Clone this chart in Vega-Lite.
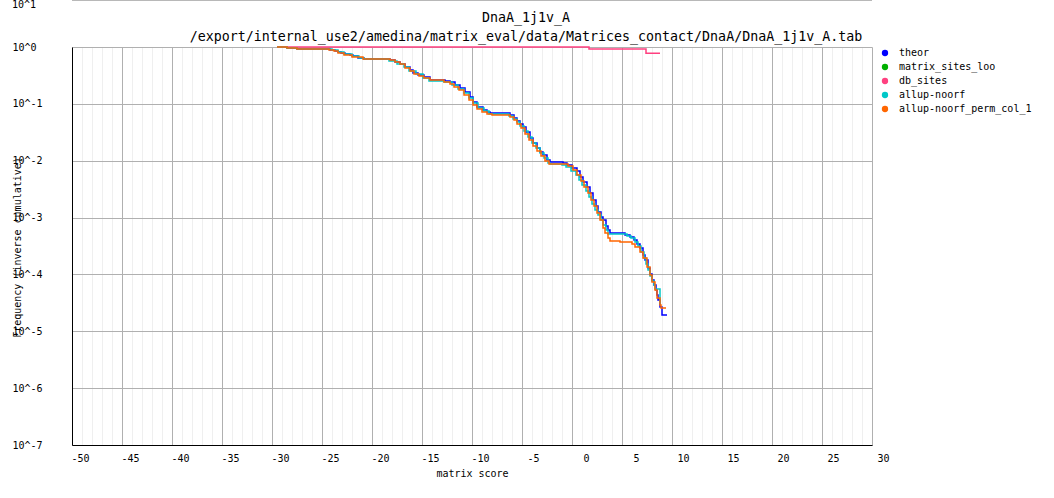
{
  "$schema": "https://vega.github.io/schema/vega-lite/v6.json",
  "autosize": {"type": "none"},
  "padding": {"left": 72, "top": 47, "right": 182, "bottom": 53},
  "width": 800,
  "height": 398,
  "background": "white",
  "title": {
    "text": ["DnaA_1j1v_A", "/export/internal_use2/amedina/matrix_eval/data/Matrices_contact/DnaA/DnaA_1j1v_A.tab"],
    "font": "DejaVu Sans Mono",
    "fontSize": 13.3,
    "fontWeight": "normal",
    "color": "black",
    "anchor": "middle",
    "frame": "group",
    "dx": 54,
    "lineHeight": 19,
    "offset": -43
  },
  "config": {
    "view": {"stroke": null},
    "axis": {
      "labelFont": "DejaVu Sans Mono",
      "labelFontSize": 10,
      "labelColor": "black",
      "titleFont": "DejaVu Sans Mono",
      "titleFontSize": 10,
      "titleFontWeight": "normal",
      "titleColor": "black",
      "domainColor": "black",
      "domainWidth": 1,
      "ticks": false,
      "tickSize": 0,
      "gridOpacity": 1
    },
    "legend": {
      "labelFont": "DejaVu Sans Mono",
      "labelFontSize": 10,
      "labelColor": "black"
    }
  },
  "layer": [
    {
      "data": {"values": [
        {"s": "theor", "x": -29.5, "y": 1},
        {"s": "theor", "x": -28.5, "y": 0.96},
        {"s": "theor", "x": -27.5, "y": 0.922},
        {"s": "theor", "x": -24.2, "y": 0.8856},
        {"s": "theor", "x": -23.7, "y": 0.8504},
        {"s": "theor", "x": -23.4, "y": 0.8166},
        {"s": "theor", "x": -23.1, "y": 0.7842},
        {"s": "theor", "x": -22.7, "y": 0.753},
        {"s": "theor", "x": -22.2, "y": 0.7232},
        {"s": "theor", "x": -21.9, "y": 0.6944},
        {"s": "theor", "x": -21.4, "y": 0.6405},
        {"s": "theor", "x": -20.8, "y": 0.6151},
        {"s": "theor", "x": -18.2, "y": 0.5906},
        {"s": "theor", "x": -17.7, "y": 0.5447},
        {"s": "theor", "x": -17.2, "y": 0.5024},
        {"s": "theor", "x": -16.7, "y": 0.4447},
        {"s": "theor", "x": -16.2, "y": 0.3939},
        {"s": "theor", "x": -15.9, "y": 0.3488},
        {"s": "theor", "x": -15.4, "y": 0.3218},
        {"s": "theor", "x": -14.8, "y": 0.2968},
        {"s": "theor", "x": -14.2, "y": 0.2628},
        {"s": "theor", "x": -12.7, "y": 0.2523},
        {"s": "theor", "x": -12.2, "y": 0.2423},
        {"s": "theor", "x": -11.7, "y": 0.2146},
        {"s": "theor", "x": -11.2, "y": 0.19},
        {"s": "theor", "x": -10.7, "y": 0.1616},
        {"s": "theor", "x": -10.2, "y": 0.132},
        {"s": "theor", "x": -9.9, "y": 0.1078},
        {"s": "theor", "x": -9.5, "y": 0.0881},
        {"s": "theor", "x": -8.9, "y": 0.078},
        {"s": "theor", "x": -8.5, "y": 0.0719},
        {"s": "theor", "x": -8.2, "y": 0.0691},
        {"s": "theor", "x": -6.2, "y": 0.0637},
        {"s": "theor", "x": -5.8, "y": 0.0564},
        {"s": "theor", "x": -5.5, "y": 0.04995},
        {"s": "theor", "x": -5.2, "y": 0.04423},
        {"s": "theor", "x": -4.9, "y": 0.03917},
        {"s": "theor", "x": -4.6, "y": 0.032},
        {"s": "theor", "x": -4.2, "y": 0.02509},
        {"s": "theor", "x": -3.9, "y": 0.02049},
        {"s": "theor", "x": -3.5, "y": 0.01674},
        {"s": "theor", "x": -3.2, "y": 0.01424},
        {"s": "theor", "x": -2.9, "y": 0.01261},
        {"s": "theor", "x": -2.5, "y": 0.0103},
        {"s": "theor", "x": -2.2, "y": 0.0095},
        {"s": "theor", "x": -0.9, "y": 0.00912},
        {"s": "theor", "x": -0.5, "y": 0.00841},
        {"s": "theor", "x": 0, "y": 0.00745},
        {"s": "theor", "x": 0.5, "y": 0.0066},
        {"s": "theor", "x": 0.8, "y": 0.00517},
        {"s": "theor", "x": 1.1, "y": 0.00422},
        {"s": "theor", "x": 1.5, "y": 0.00345},
        {"s": "theor", "x": 1.8, "y": 0.00271},
        {"s": "theor", "x": 2.1, "y": 0.00204},
        {"s": "theor", "x": 2.4, "y": 0.0016},
        {"s": "theor", "x": 2.6, "y": 0.00125},
        {"s": "theor", "x": 2.9, "y": 0.001023},
        {"s": "theor", "x": 3.1, "y": 0.000907},
        {"s": "theor", "x": 3.4, "y": 0.000711},
        {"s": "theor", "x": 3.6, "y": 0.000605},
        {"s": "theor", "x": 3.8, "y": 0.000536},
        {"s": "theor", "x": 5.3, "y": 0.000494},
        {"s": "theor", "x": 5.8, "y": 0.000455},
        {"s": "theor", "x": 6.2, "y": 0.000403},
        {"s": "theor", "x": 6.5, "y": 0.000343},
        {"s": "theor", "x": 6.8, "y": 0.000292},
        {"s": "theor", "x": 7.1, "y": 0.00022},
        {"s": "theor", "x": 7.3, "y": 0.000179},
        {"s": "theor", "x": 7.6, "y": 0.00013},
        {"s": "theor", "x": 7.8, "y": 0.000102},
        {"s": "theor", "x": 8.0, "y": 0.0000798},
        {"s": "theor", "x": 8.2, "y": 0.0000652},
        {"s": "theor", "x": 8.4, "y": 0.0000532},
        {"s": "theor", "x": 8.5, "y": 0.0000435},
        {"s": "theor", "x": 8.6, "y": 0.0000355},
        {"s": "theor", "x": 8.8, "y": 0.0000268},
        {"s": "theor", "x": 9.0, "y": 0.0000194},
        {"s": "theor", "x": 9.5, "y": 0.0000194},

        {"s": "db_sites", "x": -29.5, "y": 1},
        {"s": "db_sites", "x": 1.7, "y": 0.922},
        {"s": "db_sites", "x": 7.4, "y": 0.775},
        {"s": "db_sites", "x": 8.8, "y": 0.775},

        {"s": "allup-noorf", "x": -29.5, "y": 1},
        {"s": "allup-noorf", "x": -28.5, "y": 0.96},
        {"s": "allup-noorf", "x": -27.5, "y": 0.922},
        {"s": "allup-noorf", "x": -24.0, "y": 0.8856},
        {"s": "allup-noorf", "x": -23.4, "y": 0.8166},
        {"s": "allup-noorf", "x": -22.8, "y": 0.753},
        {"s": "allup-noorf", "x": -22.0, "y": 0.6944},
        {"s": "allup-noorf", "x": -21.3, "y": 0.6405},
        {"s": "allup-noorf", "x": -20.8, "y": 0.6151},
        {"s": "allup-noorf", "x": -18.3, "y": 0.5672},
        {"s": "allup-noorf", "x": -17.5, "y": 0.5024},
        {"s": "allup-noorf", "x": -16.8, "y": 0.4447},
        {"s": "allup-noorf", "x": -16.3, "y": 0.3784},
        {"s": "allup-noorf", "x": -15.6, "y": 0.3351},
        {"s": "allup-noorf", "x": -14.9, "y": 0.285},
        {"s": "allup-noorf", "x": -14.3, "y": 0.2523},
        {"s": "allup-noorf", "x": -12.8, "y": 0.2423},
        {"s": "allup-noorf", "x": -12.0, "y": 0.2146},
        {"s": "allup-noorf", "x": -11.4, "y": 0.1825},
        {"s": "allup-noorf", "x": -10.8, "y": 0.1552},
        {"s": "allup-noorf", "x": -10.3, "y": 0.1268},
        {"s": "allup-noorf", "x": -9.9, "y": 0.1035},
        {"s": "allup-noorf", "x": -9.4, "y": 0.0846},
        {"s": "allup-noorf", "x": -8.8, "y": 0.0749},
        {"s": "allup-noorf", "x": -8.3, "y": 0.0663},
        {"s": "allup-noorf", "x": -6.3, "y": 0.0612},
        {"s": "allup-noorf", "x": -5.9, "y": 0.0542},
        {"s": "allup-noorf", "x": -5.5, "y": 0.048},
        {"s": "allup-noorf", "x": -5.2, "y": 0.0408},
        {"s": "allup-noorf", "x": -4.8, "y": 0.0333},
        {"s": "allup-noorf", "x": -4.4, "y": 0.0261},
        {"s": "allup-noorf", "x": -4.0, "y": 0.02049},
        {"s": "allup-noorf", "x": -3.6, "y": 0.01674},
        {"s": "allup-noorf", "x": -3.2, "y": 0.01367},
        {"s": "allup-noorf", "x": -2.8, "y": 0.01116},
        {"s": "allup-noorf", "x": -2.4, "y": 0.00912},
        {"s": "allup-noorf", "x": -2.2, "y": 0.00876},
        {"s": "allup-noorf", "x": -1.0, "y": 0.00841},
        {"s": "allup-noorf", "x": -0.6, "y": 0.00775},
        {"s": "allup-noorf", "x": -0.1, "y": 0.0066},
        {"s": "allup-noorf", "x": 0.4, "y": 0.00561},
        {"s": "allup-noorf", "x": 0.7, "y": 0.00458},
        {"s": "allup-noorf", "x": 1.0, "y": 0.00374},
        {"s": "allup-noorf", "x": 1.4, "y": 0.00293},
        {"s": "allup-noorf", "x": 1.7, "y": 0.0023},
        {"s": "allup-noorf", "x": 2.0, "y": 0.00173},
        {"s": "allup-noorf", "x": 2.3, "y": 0.00136},
        {"s": "allup-noorf", "x": 2.6, "y": 0.00111},
        {"s": "allup-noorf", "x": 2.9, "y": 0.000907},
        {"s": "allup-noorf", "x": 3.1, "y": 0.000741},
        {"s": "allup-noorf", "x": 3.4, "y": 0.000605},
        {"s": "allup-noorf", "x": 3.6, "y": 0.000514},
        {"s": "allup-noorf", "x": 5.5, "y": 0.000474},
        {"s": "allup-noorf", "x": 5.9, "y": 0.000437},
        {"s": "allup-noorf", "x": 6.3, "y": 0.000372},
        {"s": "allup-noorf", "x": 6.6, "y": 0.000316},
        {"s": "allup-noorf", "x": 6.9, "y": 0.000248},
        {"s": "allup-noorf", "x": 7.2, "y": 0.000195},
        {"s": "allup-noorf", "x": 7.4, "y": 0.000153},
        {"s": "allup-noorf", "x": 7.6, "y": 0.00012},
        {"s": "allup-noorf", "x": 7.8, "y": 0.0000939},
        {"s": "allup-noorf", "x": 8.0, "y": 0.0000767},
        {"s": "allup-noorf", "x": 8.2, "y": 0.0000652},
        {"s": "allup-noorf", "x": 8.3, "y": 0.0000554},
        {"s": "allup-noorf", "x": 8.8, "y": 0.0000315},
        {"s": "allup-noorf", "x": 8.9, "y": 0.0000315},

        {"s": "allup-noorf_perm_col_1", "x": -29.5, "y": 1},
        {"s": "allup-noorf_perm_col_1", "x": -28.5, "y": 0.96},
        {"s": "allup-noorf_perm_col_1", "x": -27.5, "y": 0.922},
        {"s": "allup-noorf_perm_col_1", "x": -24.3, "y": 0.8856},
        {"s": "allup-noorf_perm_col_1", "x": -23.8, "y": 0.8504},
        {"s": "allup-noorf_perm_col_1", "x": -23.4, "y": 0.7842},
        {"s": "allup-noorf_perm_col_1", "x": -22.8, "y": 0.7232},
        {"s": "allup-noorf_perm_col_1", "x": -22.0, "y": 0.667},
        {"s": "allup-noorf_perm_col_1", "x": -20.9, "y": 0.6151},
        {"s": "allup-noorf_perm_col_1", "x": -18.2, "y": 0.5906},
        {"s": "allup-noorf_perm_col_1", "x": -17.7, "y": 0.5447},
        {"s": "allup-noorf_perm_col_1", "x": -17.2, "y": 0.5024},
        {"s": "allup-noorf_perm_col_1", "x": -16.7, "y": 0.4272},
        {"s": "allup-noorf_perm_col_1", "x": -16.2, "y": 0.3784},
        {"s": "allup-noorf_perm_col_1", "x": -15.8, "y": 0.3351},
        {"s": "allup-noorf_perm_col_1", "x": -15.3, "y": 0.309},
        {"s": "allup-noorf_perm_col_1", "x": -14.8, "y": 0.285},
        {"s": "allup-noorf_perm_col_1", "x": -14.2, "y": 0.2628},
        {"s": "allup-noorf_perm_col_1", "x": -12.8, "y": 0.2423},
        {"s": "allup-noorf_perm_col_1", "x": -12.2, "y": 0.2235},
        {"s": "allup-noorf_perm_col_1", "x": -11.8, "y": 0.1979},
        {"s": "allup-noorf_perm_col_1", "x": -11.3, "y": 0.1753},
        {"s": "allup-noorf_perm_col_1", "x": -10.8, "y": 0.1432},
        {"s": "allup-noorf_perm_col_1", "x": -10.3, "y": 0.1169},
        {"s": "allup-noorf_perm_col_1", "x": -9.9, "y": 0.0955},
        {"s": "allup-noorf_perm_col_1", "x": -9.5, "y": 0.0812},
        {"s": "allup-noorf_perm_col_1", "x": -9.0, "y": 0.0719},
        {"s": "allup-noorf_perm_col_1", "x": -8.5, "y": 0.0663},
        {"s": "allup-noorf_perm_col_1", "x": -8.0, "y": 0.0637},
        {"s": "allup-noorf_perm_col_1", "x": -6.2, "y": 0.0587},
        {"s": "allup-noorf_perm_col_1", "x": -5.8, "y": 0.052},
        {"s": "allup-noorf_perm_col_1", "x": -5.5, "y": 0.04423},
        {"s": "allup-noorf_perm_col_1", "x": -5.1, "y": 0.03762},
        {"s": "allup-noorf_perm_col_1", "x": -4.7, "y": 0.02951},
        {"s": "allup-noorf_perm_col_1", "x": -4.3, "y": 0.02314},
        {"s": "allup-noorf_perm_col_1", "x": -3.9, "y": 0.01815},
        {"s": "allup-noorf_perm_col_1", "x": -3.5, "y": 0.01483},
        {"s": "allup-noorf_perm_col_1", "x": -3.1, "y": 0.01211},
        {"s": "allup-noorf_perm_col_1", "x": -2.7, "y": 0.00989},
        {"s": "allup-noorf_perm_col_1", "x": -2.3, "y": 0.00876},
        {"s": "allup-noorf_perm_col_1", "x": -0.4, "y": 0.00807},
        {"s": "allup-noorf_perm_col_1", "x": 0.1, "y": 0.00687},
        {"s": "allup-noorf_perm_col_1", "x": 0.5, "y": 0.00561},
        {"s": "allup-noorf_perm_col_1", "x": 0.9, "y": 0.0044},
        {"s": "allup-noorf_perm_col_1", "x": 1.2, "y": 0.00345},
        {"s": "allup-noorf_perm_col_1", "x": 1.6, "y": 0.00271},
        {"s": "allup-noorf_perm_col_1", "x": 1.9, "y": 0.00204},
        {"s": "allup-noorf_perm_col_1", "x": 2.2, "y": 0.0016},
        {"s": "allup-noorf_perm_col_1", "x": 2.5, "y": 0.0012},
        {"s": "allup-noorf_perm_col_1", "x": 2.8, "y": 0.000907},
        {"s": "allup-noorf_perm_col_1", "x": 3.1, "y": 0.000656},
        {"s": "allup-noorf_perm_col_1", "x": 3.3, "y": 0.000536},
        {"s": "allup-noorf_perm_col_1", "x": 3.6, "y": 0.000437},
        {"s": "allup-noorf_perm_col_1", "x": 3.8, "y": 0.000387},
        {"s": "allup-noorf_perm_col_1", "x": 4.8, "y": 0.000372},
        {"s": "allup-noorf_perm_col_1", "x": 6.0, "y": 0.000343},
        {"s": "allup-noorf_perm_col_1", "x": 6.3, "y": 0.000304},
        {"s": "allup-noorf_perm_col_1", "x": 6.8, "y": 0.000248},
        {"s": "allup-noorf_perm_col_1", "x": 7.1, "y": 0.000195},
        {"s": "allup-noorf_perm_col_1", "x": 7.5, "y": 0.000135},
        {"s": "allup-noorf_perm_col_1", "x": 7.8, "y": 0.0000977},
        {"s": "allup-noorf_perm_col_1", "x": 8.0, "y": 0.0000736},
        {"s": "allup-noorf_perm_col_1", "x": 8.3, "y": 0.0000532},
        {"s": "allup-noorf_perm_col_1", "x": 8.5, "y": 0.0000385},
        {"s": "allup-noorf_perm_col_1", "x": 8.8, "y": 0.000029},
        {"s": "allup-noorf_perm_col_1", "x": 8.9, "y": 0.0000257},
        {"s": "allup-noorf_perm_col_1", "x": 9.4, "y": 0.0000257}
      ]},
      "mark": {"type": "line", "interpolate": "step-after", "strokeWidth": 1.5},
      "encoding": {
        "x": {
          "field": "x",
          "type": "quantitative",
          "scale": {"domain": [-50, 30], "nice": false, "zero": false},
          "axis": {
            "title": "matrix score",
            "values": [-50,-49,-48,-47,-46,-45,-44,-43,-42,-41,-40,-39,-38,-37,-36,-35,-34,-33,-32,-31,-30,-29,-28,-27,-26,-25,-24,-23,-22,-21,-20,-19,-18,-17,-16,-15,-14,-13,-12,-11,-10,-9,-8,-7,-6,-5,-4,-3,-2,-1,0,1,2,3,4,5,6,7,8,9,10,11,12,13,14,15,16,17,18,19,20,21,22,23,24,25,26,27,28,29,30],
            "tickCount": 200,
            "labelExpr": "datum.value % 5 === 0 ? '' + datum.value : ''",
            "gridColor": {"condition": {"test": "datum.value % 5 === 0", "value": "#b0b0b0"}, "value": "#efefef"},
            "labelAlign": "right",
            "labelOffset": 17,
            "labelBaseline": "top",
            "labelPadding": 8,
            "labelBound": false,
            "labelOverlap": false,
            "labelFlush": false,
            "titleY": 28,
            "titleBaseline": "middle"
          }
        },
        "y": {
          "field": "y",
          "type": "quantitative",
          "scale": {"type": "log", "domain": [1e-7, 1], "nice": false},
          "axis": {
            "title": "Frequency (inverse cumulative)",
            "values": [1e-7, 1e-6, 1e-5, 1e-4, 1e-3, 1e-2, 1e-1, 1],
            "tickCount": 20,
            "labelExpr": "'10^' + round(log(datum.value) / LN10)",
            "gridColor": "#b0b0b0",
            "labelAlign": "left",
            "labelBaseline": "middle",
            "labelPadding": 60,
            "labelBound": false,
            "labelOverlap": false,
            "labelFlush": false,
            "titleX": -55,
            "titleY": 200,
            "titleAlign": "center",
            "titleBaseline": "middle"
          }
        },
        "color": {
          "field": "s",
          "type": "nominal",
          "scale": {
            "domain": ["theor", "matrix_sites_loo", "db_sites", "allup-noorf", "allup-noorf_perm_col_1"],
            "range": ["#0000ff", "#00b000", "#ff4080", "#00c8c8", "#ff6600"]
          },
          "legend": {
            "title": null,
            "orient": "none",
            "legendX": 808,
            "legendY": 1,
            "direction": "vertical",
            "symbolType": "circle",
            "symbolSize": 40,
            "symbolStrokeWidth": 0,
            "rowPadding": 4,
            "padding": 0,
            "labelOffset": 9,
            "encode": {
              "symbols": {"update": {"fill": {"scale": "color", "field": "value"}, "strokeWidth": {"value": 0}}}
            }
          }
        }
      }
    },
    {
      "data": {"values": [{}]},
      "mark": {"type": "rule", "color": "#b0b0b0", "strokeWidth": 1},
      "encoding": {
        "x": {"datum": -50, "type": "quantitative"},
        "x2": {"datum": 30},
        "y": {"datum": 6.6, "type": "quantitative"}
      }
    },
    {
      "data": {"values": [{}]},
      "mark": {"type": "text", "font": "DejaVu Sans Mono", "fontSize": 10, "color": "black", "align": "left", "baseline": "top", "dx": -60},
      "encoding": {
        "x": {"datum": -50, "type": "quantitative"},
        "y": {"datum": 6.6, "type": "quantitative"},
        "text": {"value": "10^1"}
      }
    }
  ]
}
